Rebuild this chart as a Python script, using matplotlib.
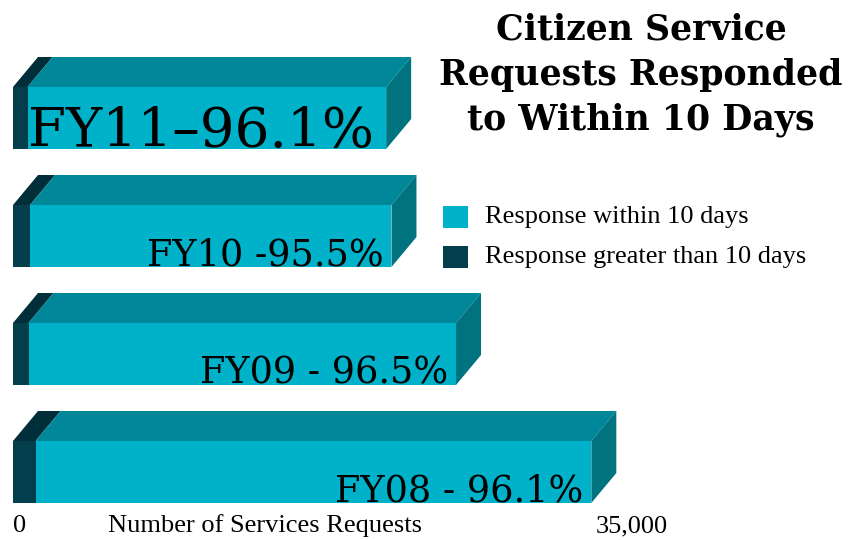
import matplotlib.pyplot as plt
from matplotlib.patches import Polygon, Rectangle

# fiscal years, bottom to top
years = ["FY08", "FY09", "FY10", "FY11"]
total_requests = [32700, 25050, 21400, 21100]
pct_within = [96.1, 96.5, 95.5, 96.1]
bar_labels = ["FY08 - 96.1%", "FY09 - 96.5%", "FY10 -95.5%", "FY11\u201396.1%"]

AXIS_MAX = 35000

LIGHT_FRONT = "#00b1ca"
LIGHT_TOP = "#008799"
LIGHT_SIDE = "#00737f"
DARK_FRONT = "#023e4b"
DARK_TOP = "#012f39"

W, H = 866, 540
fig = plt.figure(figsize=(W / 100, H / 100), dpi=100)
ax = fig.add_axes([0, 0, 1, 1])
ax.axis("off")

# pixel anchors: x=0 at 13px, 35,000 at 632px; bar rows 118px apart
px_per_unit = (632 - 13) / AXIS_MAX
ax.set_xlim(-13 / px_per_unit, (W - 13) / px_per_unit)
row_px = 118
ax.set_ylim(-(H - 472) / row_px, 472 / row_px)

bar_h = 62 / row_px
dx = 25 / px_per_unit
dy = 30 / row_px

dark_vals = [t * (100 - p) / 100 for t, p in zip(total_requests, pct_within)]
light_vals = [t * p / 100 for t, p in zip(total_requests, pct_within)]
ypos = list(range(len(years)))

ax.barh(ypos, dark_vals, height=bar_h, color=DARK_FRONT, zorder=2)
ax.barh(ypos, light_vals, left=dark_vals, height=bar_h, color=LIGHT_FRONT, zorder=2)

# top and side faces for the 3-D look
for y, d, t in zip(ypos, dark_vals, total_requests):
    top = y + bar_h / 2
    bot = y - bar_h / 2
    for x0, x1, c in [(0, d, DARK_TOP), (d, t, LIGHT_TOP)]:
        ax.add_patch(Polygon([(x0, top), (x1, top), (x1 + dx, top + dy), (x0 + dx, top + dy)],
                             closed=True, facecolor=c, edgecolor="none", zorder=1))
    ax.add_patch(Polygon([(t, bot), (t, top), (t + dx, top + dy), (t + dx, bot + dy)],
                         closed=True, facecolor=LIGHT_SIDE, edgecolor="none", zorder=1))

# value labels sitting on the front faces
for i, (y, t, lab) in enumerate(zip(ypos, total_requests, bar_labels)):
    base = y - bar_h / 2 + 2 / row_px
    if i == len(years) - 1:
        ax.text(28 / px_per_unit + ax.get_xlim()[0], base, lab,
                fontsize=39.5, family="DejaVu Serif", ha="left", va="baseline", zorder=3)
    else:
        ax.text(t - 8 / px_per_unit, base, lab, fontsize=26.4,
                family="DejaVu Serif", ha="right", va="baseline", zorder=3)

# axis end labels
base_y = -(532 - 472) / row_px
ax.text(0, base_y, "0", fontsize=19, family="Liberation Serif", ha="left", va="baseline")
ax.text(AXIS_MAX, base_y, "35,000", fontsize=19, family="Liberation Serif",
        ha="center", va="baseline")
ax.text(95 / px_per_unit, base_y, "Number of Services Requests", fontsize=19,
        family="Liberation Serif", ha="left", va="baseline")

# title
fig.text(641 / W, 1 - 75 / H, "Citizen Service\nRequests Responded\nto Within 10 Days",
         fontsize=25, family="DejaVu Serif", fontweight="bold", ha="center", va="center",
         linespacing=1.4)

# legend
for j, (c, lab) in enumerate([(LIGHT_FRONT, "Response within 10 days"),
                              (DARK_FRONT, "Response greater than 10 days")]):
    yc = 217 + 40 * j
    fig.patches.append(Rectangle((443 / W, 1 - (yc + 11) / H), 25 / W, 22 / H,
                                 transform=fig.transFigure, facecolor=c, edgecolor="none"))
    fig.text(485 / W, 1 - yc / H, lab, fontsize=19, family="Liberation Serif",
             ha="left", va="center")

fig.savefig("out.png", dpi=100)
